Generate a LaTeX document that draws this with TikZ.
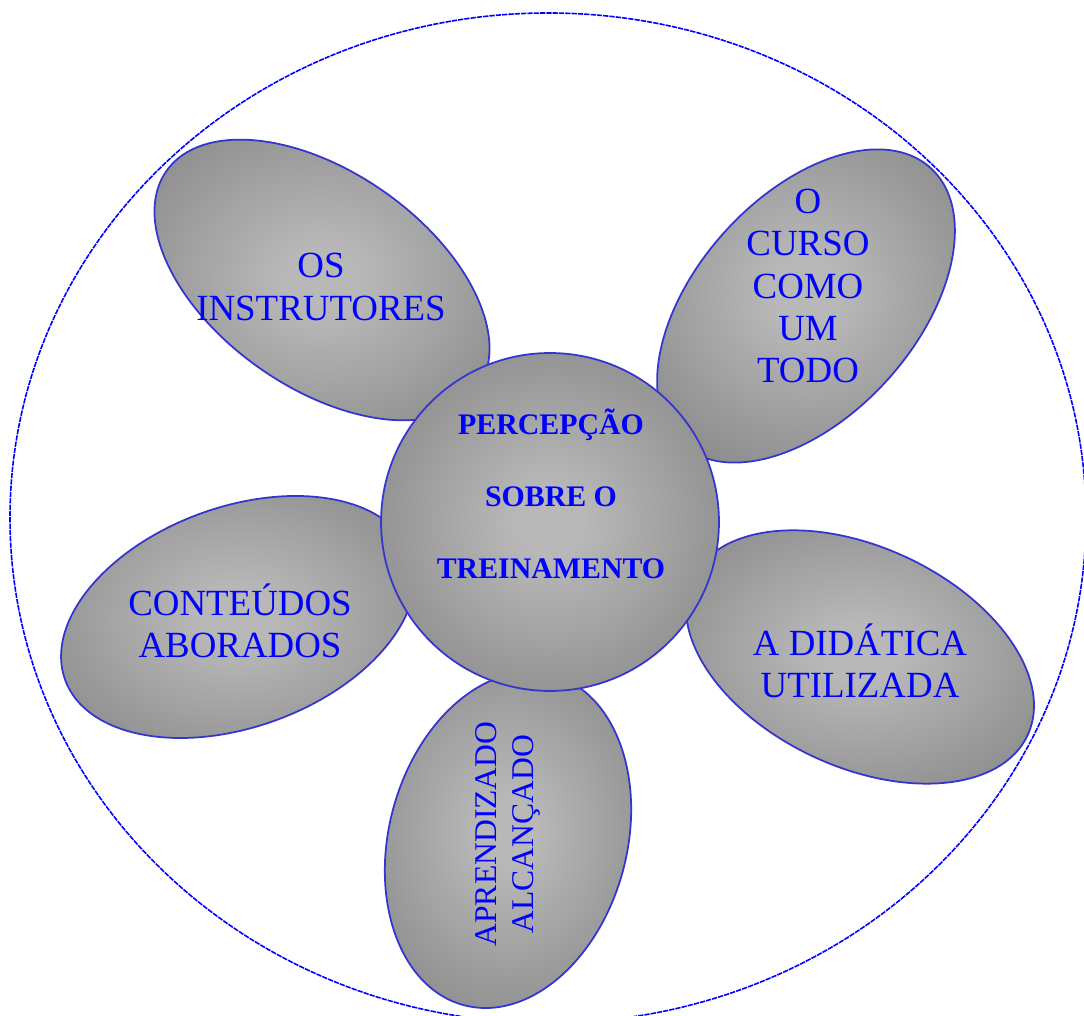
\documentclass[tikz,border=0pt]{standalone}
\usepackage{fontspec}
\setmainfont{Liberation Serif}
\usetikzlibrary{shapes.geometric}

\definecolor{petalhi}{RGB}{184,184,184}
\definecolor{petallo}{RGB}{122,122,122}
\definecolor{rimblue}{RGB}{52,52,208}
\pgfdeclareradialshading{petalshade}{\pgfpoint{0bp}{0bp}}{color(0bp)=(petalhi); color(5bp)=(petalhi); color(40bp)=(petallo); color(50bp)=(petallo)}

\tikzset{
  petal/.style={ellipse, draw=rimblue, line width=1pt, shading=petalshade, inner sep=0pt},
  hub/.style={circle, draw=rimblue, line width=1pt, shading=petalshade, inner sep=0pt, minimum size=6.76cm},
  lbl/.style={text=blue, align=center, inner sep=0pt, font=\fontsize{21}{24}\selectfont},
  hublbl/.style={text=blue, align=center, inner sep=0pt, font=\bfseries\fontsize{17}{41}\selectfont},
  rim/.style={draw=blue, line width=0.9pt, dash pattern=on 3pt off 0.6pt}
}

\begin{document}
\begin{tikzpicture}[x=0.02cm, y=0.02cm]
  \useasboundingbox (0,0) rectangle (1084,1016);

  % Outer ring
  \begin{scope}
    \clip (0,0) rectangle (1084,1016);
    \draw[rim] (548,498) ellipse [x radius=538, y radius=505];
  \end{scope}

  % Petals
  \node[petal, minimum width=7.6cm, minimum height=4.32cm, rotate=-35] (instr) at (322,736) {};
  \node[petal, minimum width=7.44cm, minimum height=4.4cm, rotate=48] (curso) at (806,710) {};
  \node[petal, minimum width=7.36cm, minimum height=4.4cm, rotate=20] (conteudos) at (238,399) {};
  \node[petal, minimum width=7.4cm, minimum height=4.4cm, rotate=-25] (didatica) at (860,359) {};
  \node[petal, minimum width=6.84cm, minimum height=4.76cm, rotate=75] (aprend) at (508,176) {};

  % Centre
  \node[hub] (hub) at (550,494) {};

  % Labels
  \node[lbl] (instr-t) at (321,729) {OS\\INSTRUTORES};
  \node[lbl] (curso-t) at (808,730) {O\\CURSO\\COMO\\UM\\TODO};
  \node[lbl] (conteudos-t) at (240,395) {CONTEÚDOS\\ABORADOS};
  \node[lbl] (didatica-t) at (860,355) {A DIDÁTICA\\UTILIZADA};
  \node[lbl, rotate=90, font=\fontsize{18}{21}\selectfont] (aprend-t) at (508,182) {APRENDIZADO\\ALCANÇADO};
  \node[hublbl] (hub-t) at (551,522) {PERCEPÇÃO\\SOBRE O\\TREINAMENTO};
\end{tikzpicture}
\end{document}
